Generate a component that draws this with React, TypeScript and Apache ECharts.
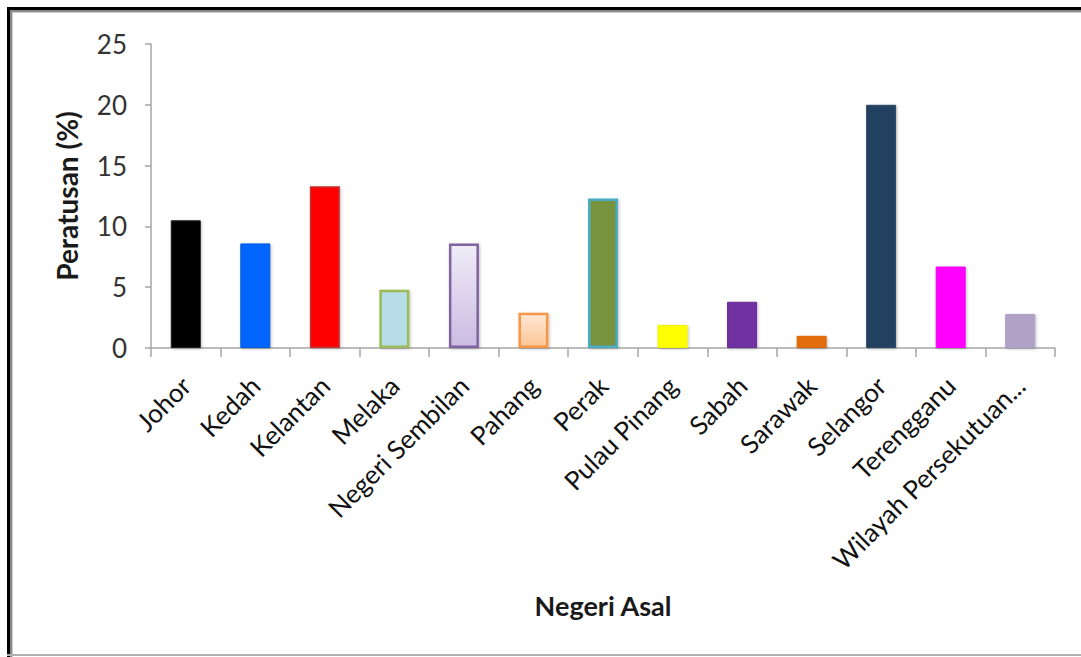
import React, { useEffect, useRef } from "react";
import * as echarts from "echarts";

const categories = [
  "Johor",
  "Kedah",
  "Kelantan",
  "Melaka",
  "Negeri Sembilan",
  "Pahang",
  "Perak",
  "Pulau Pinang",
  "Sabah",
  "Sarawak",
  "Selangor",
  "Terengganu",
  "Wilayah Persekutuan...",
];
const values = [10.5, 8.6, 13.3, 4.8, 8.6, 2.9, 12.3, 1.9, 3.8, 1.0, 20.0, 6.7, 2.8];
const fillColors: (string | [string, string])[] = [
  "#000000",
  "#0066FF",
  "#FF0000",
  "#B7DDE8",
  ["#F0ECF8", "#CBBBE2"],
  ["#FFE8D6", "#FCC494"],
  "#77933C",
  "#FFFF00",
  "#7030A0",
  "#E36C09",
  "#243F60",
  "#FF00FF",
  "#B2A1C7",
];
const borderColors = [
  "#1a1a1a",
  "#0058D8",
  "#C8312E",
  "#9BBB59",
  "#8064A2",
  "#F79646",
  "#4BACC6",
  "#F2F200",
  "#6A2C98",
  "#D96608",
  "#2A4566",
  "#F500F5",
  "#AE9DC4",
];
const borderWidths = [1, 1, 1.5, 2.5, 2.5, 2.5, 2.5, 1, 1, 1, 1, 1, 1];
const yTicks = { min: 0, max: 25, interval: 5 };
const xTitle = "Negeri Asal";
const yTitle = "Peratusan (%)";

export default function App() {
  const ref = useRef<HTMLDivElement>(null);
  useEffect(() => {
    if (!ref.current) return;
    const chart = echarts.init(ref.current, undefined, { renderer: "svg" });
    const data = values.map((v, i) => {
      const f = fillColors[i];
      const color = Array.isArray(f)
        ? new echarts.graphic.LinearGradient(0, 0, 0, 1, [
            { offset: 0, color: f[0] },
            { offset: 1, color: f[1] },
          ])
        : f;
      return {
        value: v,
        itemStyle: {
          color,
          borderColor: borderColors[i],
          borderWidth: borderWidths[i],
          shadowBlur: 3,
          shadowColor: "rgba(0,0,0,0.25)",
          shadowOffsetX: 1,
          shadowOffsetY: 1,
        },
      };
    });
    chart.setOption({
      animation: false,
      backgroundColor: "#ffffff",
      textStyle: { fontFamily: "Lato" },
      grid: { left: 151, right: 26, top: 44, bottom: 309, containLabel: false },
      xAxis: {
        type: "category",
        data: categories,
        boundaryGap: true,
        name: xTitle,
        nameLocation: "middle",
        nameGap: 244,
        nameTextStyle: { fontFamily: "Lato", fontWeight: "bold", fontSize: 27, color: "#1a1a1a" },
        axisLine: { show: true, lineStyle: { color: "#A6A6A6", width: 1.5 } },
        axisTick: { show: true, alignWithLabel: false, length: 9, inside: false, lineStyle: { color: "#A6A6A6", width: 1.5 } },
        axisLabel: {
          rotate: 45,
          interval: 0,
          margin: 33,
          fontFamily: "Lato",
          fontSize: 26,
          color: "#111111",
        },
        splitLine: { show: false },
      },
      yAxis: {
        type: "value",
        min: yTicks.min,
        max: yTicks.max,
        interval: yTicks.interval,
        name: yTitle,
        nameLocation: "middle",
        nameGap: 70,
        nameRotate: 90,
        nameTextStyle: { fontFamily: "Lato", fontWeight: "bold", fontSize: 28, color: "#1a1a1a" },
        axisLine: { show: true, lineStyle: { color: "#A6A6A6", width: 1.5 } },
        axisTick: { show: true, length: 6, lineStyle: { color: "#A6A6A6", width: 1.5 } },
        axisLabel: { margin: 24, fontFamily: "Lato", fontSize: 26, color: "#333333" },
        splitLine: { show: false },
      },
      series: [
        {
          type: "bar",
          data,
          barWidth: 30,
        },
      ],
      graphic: [
        { type: "rect", shape: { x: 7, y: 7, width: 3, height: 650 }, style: { fill: "#000" }, silent: true },
        { type: "rect", shape: { x: 7, y: 7, width: 1074, height: 3 }, style: { fill: "#000" }, silent: true },
        { type: "rect", shape: { x: 10, y: 10, width: 2, height: 647 }, style: { fill: "#8a8a8a" }, silent: true },
        { type: "rect", shape: { x: 10, y: 10, width: 1071, height: 2 }, style: { fill: "#8a8a8a" }, silent: true },
        { type: "rect", shape: { x: 12, y: 12, width: 1, height: 645 }, style: { fill: "#cfcfcf" }, silent: true },
        { type: "rect", shape: { x: 12, y: 12, width: 1069, height: 1 }, style: { fill: "#cfcfcf" }, silent: true },
        { type: "rect", shape: { x: 7, y: 654, width: 1074, height: 2 }, style: { fill: "#b0b0b0" }, silent: true },
      ],
    });
    return () => chart.dispose();
  }, []);
  return (
    <div
      ref={ref}
      style={{ position: "fixed", left: 0, top: 0, width: 1081, height: 657 }}
    />
  );
}
